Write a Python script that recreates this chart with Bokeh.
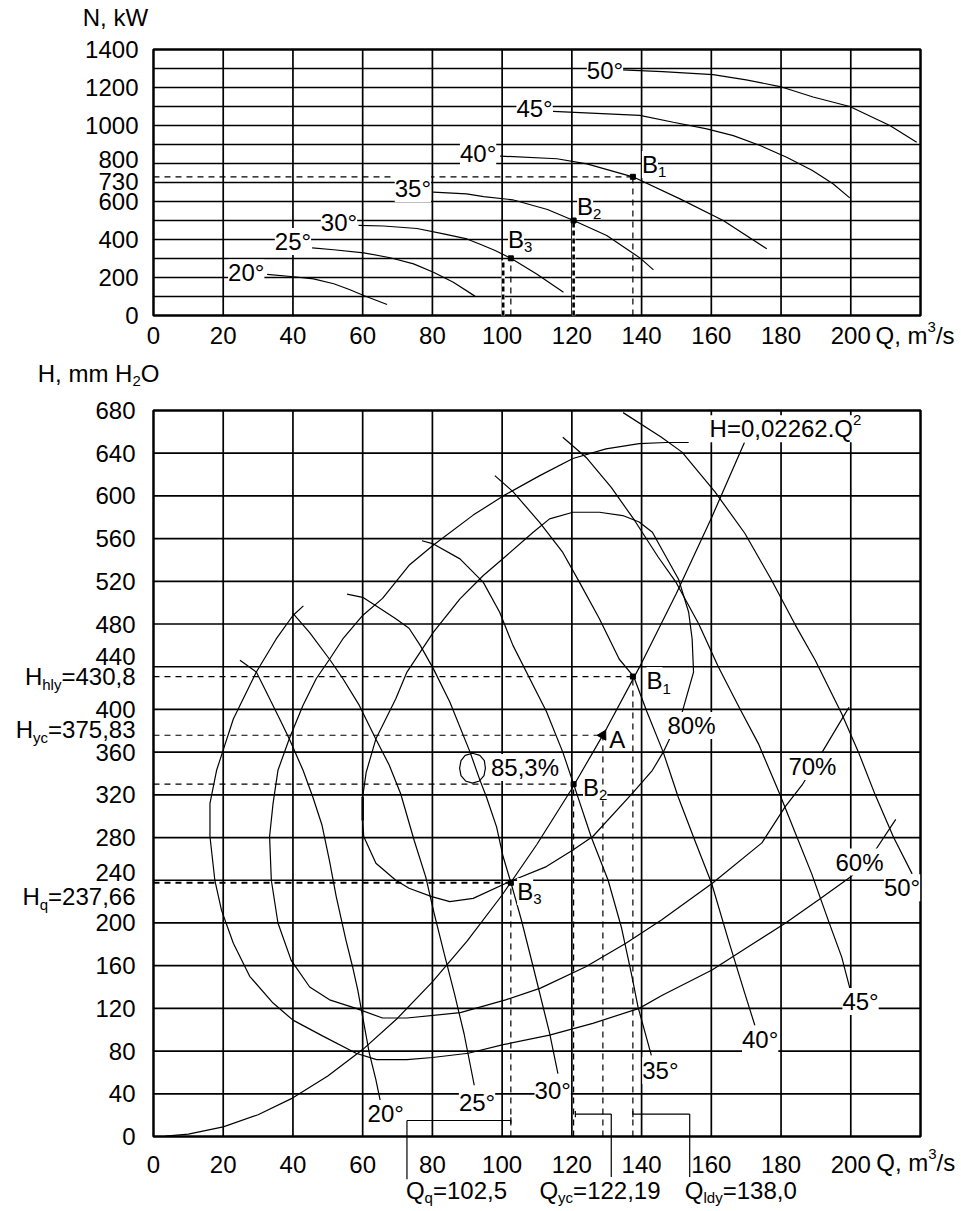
from bokeh.plotting import figure
from bokeh.models import Range1d, FixedTicker, Label, LinearAxis
from bokeh.layouts import column
from bokeh.embed import file_html
from bokeh.resources import INLINE

# ======================= DATA =======================
# flow axis (shared)
Q_TICKS = [0, 20, 40, 60, 80, 100, 120, 140, 160, 180, 200]
Q_GRID = [20, 40, 60, 80, 100, 120, 140, 160, 180, 200]
Q_MAX = 220

# ---------- upper chart: power N, kW ----------
N_TICKS = [0, 200, 400, 600, 1000, 1200, 1400]
N_EXTRA = ["730", "800"]
N_GRID = [100, 200, 300, 400, 500, 600, 700, 800, 900, 1000, 1100, 1200, 1300]
N_MAX = 1400

QN_20 = [32.6, 40.2, 45.9, 51.7, 56.0, 60.3, 67.0]
N_20 = [216, 204, 193, 167, 138, 105, 58]
QN_25 = [45.5, 51.7, 60.3, 67.9, 74.6, 80.3, 86.0, 92.2]
N_25 = [356, 346, 330, 304, 272, 228, 175, 102]
QN_30 = [58.8, 66.0, 75.6, 83.2, 89.9, 93.7, 98.0, 102.5, 109.9, 117.6]
N_30 = [474, 471, 458, 430, 403, 375, 342, 301, 219, 123]
QN_35 = [80.2, 89.8, 94.7, 103.0, 113.0, 120.5, 130.0, 139.6, 143.4]
N_35 = [649, 640, 626, 609, 558, 500, 421, 302, 240]
QN_40 = [99.4, 115.7, 124.3, 137.5, 151.0, 163.4, 175.9]
N_40 = [839, 825, 798, 730, 614, 500, 351]
QN_45 = [114.6, 139.5, 149.1, 158.7, 166.3, 174.0, 181.6, 189.0, 194.9, 199.7]
N_45 = [1074, 1053, 1017, 982, 947, 895, 833, 763, 693, 619]
QN_50 = [134.4, 146.0, 160.5, 170.0, 179.7, 189.2, 199.7, 211.2, 218.9]
N_50 = [1293, 1284, 1268, 1240, 1205, 1150, 1100, 1000, 912]
ANGLES = ["20°", "25°", "30°", "35°", "40°", "45°", "50°"]

# operating points B1, B2, B3
B_Q = [137.5, 120.5, 102.5]
B_N = [730, 500, 301]
B_H = [430.8, 330.0, 237.66]
A_Q, A_H = 128.9, 375.83

# ---------- lower chart: pressure H, mm H2O ----------
H_TICKS = [0, 40, 80, 120, 160, 200, 280, 320, 360, 400, 480, 520, 560, 600, 640, 680]
H_EXTRA = ["440", "240"]
H_GRID = [40, 80, 120, 160, 200, 240, 280, 320, 360, 400, 440, 480, 520, 560, 600, 640]
H_MAX = 680

# network curve H = 0,02262.Q^2
Q_SYS = [3.4, 10, 20, 30, 40, 50, 60, 70, 80, 90, 100, 110, 120, 130, 140, 150, 160, 169.5]
H_SYS = [0.3, 2.3, 9.0, 20.4, 36.2, 56.6, 81.4, 110.8, 144.8, 183.2, 226.2, 273.7,
         325.7, 382.3, 443.4, 508.9, 579.1, 650.0]

QH_20 = [24.8, 29.5, 32.4, 36.2, 39.0, 42.9, 45.7, 48.3, 50.5, 52.4, 55.2, 57.1, 58.6, 60.0, 61.9, 63.8, 65.2]
H_20 = [446, 435, 416, 391, 372, 343, 318, 292, 258, 225, 184, 159, 137, 112, 78, 53, 31]
QH_25 = [40.0, 44.8, 50.5, 54.3, 59.0, 63.8, 67.6, 70.9, 74.8, 78.1, 80.5, 83.4, 86.3, 89.1, 92.0]
H_25 = [490, 472, 447, 429, 404, 372, 348, 321, 277, 243, 209, 171, 134, 96, 48]
QH_30 = [55.5, 60.0, 63.8, 69.5, 73.3, 76.5, 80.3, 85.0, 90.8, 93.6, 95.5, 98.4, 100.3, 102.5,
         105.5, 108.9, 113.6, 116.0]
H_30 = [508, 505, 497, 485, 476, 460, 438, 407, 360, 334, 318, 290, 262, 238, 203, 159, 97, 59]
QH_35 = [77.0, 80.3, 87.9, 94.6, 99.3, 103.1, 107.9, 112.7, 117.4, 120.5, 125.6, 130.4, 134.2,
         137.1, 139.0, 142.8]
H_35 = [558, 555, 541, 519, 491, 460, 429, 398, 360, 330, 280, 240, 196, 152, 121, 76]
QH_40 = [97.9, 103.1, 110.8, 117.4, 122.2, 127.9, 133.6, 137.7, 141.5, 146.2, 150.5, 155.3,
         160.1, 164.9, 169.6, 172.5]
H_40 = [619, 604, 575, 547, 519, 485, 447, 431, 398, 360, 318, 277, 237, 184, 134, 104]
QH_45 = [117.4, 124.1, 131.3, 138.0, 144.7, 149.7, 156.4, 162.0, 168.3, 173.5, 179.2, 184.0,
         188.8, 193.6, 197.4, 199.8]
H_45 = [655, 636, 608, 577, 543, 520, 480, 440, 400, 368, 324, 285, 246, 202, 168, 138]
QH_50 = [134.7, 145.7, 151.6, 161.0, 169.6, 177.3, 184.1, 189.8, 197.4, 202.2, 207.0, 212.3, 217.6]
H_50 = [678, 655, 641, 604, 565, 521, 479, 446, 396, 360, 320, 280, 246]

# efficiency contours
Q_E60 = [212.9, 205.2, 199.9, 190.9, 181.3, 170.7, 160.2, 145.8, 139.3, 126.0, 113.6, 100.3, 90.3,
         80.0, 72.7, 64.0, 58.1, 48.6, 40.0, 34.3, 27.6, 22.9, 19.5, 17.6, 16.2, 16.2, 18.1, 19.5,
         22.9, 29.5, 35.2, 40.0, 43.0]
H_E60 = [297, 259, 243, 222, 200, 178, 156, 132, 120, 106, 95, 86, 78, 74, 72, 72, 78, 94, 109,
         125, 150, 181, 212, 240, 281, 312, 343, 357, 391, 435, 466, 488, 497]
Q_E70 = [153.5, 146.9, 139.3, 129.8, 120.3, 110.8, 100.3, 91.7, 80.3, 73.3, 65.7, 60.0, 54.3, 50.5,
         46.7, 42.9, 39.0, 35.7, 34.3, 33.3, 33.8, 35.7, 39.5, 44.8, 50.5, 58.1, 65.7, 72.7, 88.0,
         101.0, 111.0, 124.0, 135.5, 145.8, 160.2, 174.5, 181.2, 186.0, 191.8, 198.0, 199.5]
H_E70 = [650, 650, 649, 644, 635, 619, 600, 582, 554, 535, 504, 488, 466, 447, 429, 404, 373, 343,
         312, 281, 240, 200, 165, 140, 128, 120, 111, 111, 116, 128, 139, 159, 181, 203, 237, 275,
         309, 329, 360, 394, 402]
Q_E80 = [61.0, 60.0, 60.0, 60.3, 63.8, 69.5, 73.3, 79.8, 85.0, 91.7, 102.2, 112.7, 120.3, 126.0,
         137.4, 143.1, 146.2, 151.6, 154.9, 154.5, 153.5, 150.6, 145.8, 143.1, 139.3, 134.6, 127.9,
         120.3, 113.6, 108.9, 101.2, 94.6, 87.9, 80.3, 72.7, 69.5, 65.7, 63.8, 61.0]
H_E80 = [341, 318, 296, 281, 256, 240, 232.5, 224.7, 220, 223, 238.8, 252.8, 268.4, 281, 321.6,
         343, 360, 397, 435, 466, 491, 522, 550, 566, 575.5, 581.6, 584.7, 584.7, 578.5, 566, 544,
         525.4, 503.6, 472.4, 435, 410, 385, 372.5, 341]
Q_E85 = [91.5, 93.6, 94.9, 95.2, 94.8, 93.5, 91.5, 89.5, 88.2, 87.8, 88.2, 89.4, 91.5]
H_E85 = [359, 357, 352, 345, 338, 333, 331, 333, 338, 345, 352, 357, 359]

# ======================= STYLE HELPERS =======================
FONT = "Liberation Sans"
FS = 24
SUB = 15
W = 960
XR = (-43.88, 231.47)
ADV = {' ': 278, ',': 278, '.': 278, '/': 278, '=': 584, '%': 889, '°': 400,
       'A': 667, 'B': 667, 'H': 722, 'N': 722, 'O': 778, 'Q': 778, 'W': 944,
       'c': 500, 'd': 556, 'h': 556, 'k': 500, 'l': 222, 'm': 833, 'q': 556, 's': 500, 'y': 500}


def adv(t, s):
    return sum(ADV.get(c, 556) for c in t) * s / 1000.0


def lab(p, x, y, text, align="center", bg="white", size=FS, dx=0):
    p.add_layout(Label(x=x, y=y, x_offset=dx, text=text, text_align=align,
                       text_baseline="middle", text_font=FONT,
                       text_font_size=f"{size}px", text_color="black",
                       background_fill_color=bg))


def rich(p, x, y, parts, align="left", bg=None, dx=0, sub_drop=0.33):
    items = []
    for t, k in parts:
        s = FS if k == "n" else SUB
        items.append((t, k, s, adv(t, s)))
    total = sum(i[3] for i in items)
    off = dx + {"left": 0.0, "center": -total / 2, "right": -total}[align]
    for t, k, s, w in items:
        dy = 0 if k == "n" else (-sub_drop * FS if k == "sub" else 0.36 * FS)
        p.add_layout(Label(x=x, y=y, x_offset=off, y_offset=dy, text=t,
                           text_align="left", text_baseline="middle",
                           text_font=FONT, text_font_size=f"{s}px",
                           text_color="black", background_fill_color=bg))
        off += w


def make_fig(h, yr):
    p = figure(width=W, height=h, x_range=Range1d(*XR), y_range=Range1d(*yr),
               min_border=0, outline_line_color=None, toolbar_location=None,
               output_backend="svg", x_axis_type=None, y_axis_type=None)
    p.background_fill_color = "white"
    p.border_fill_color = "white"
    return p


def add_axis(p, place, ticks, standoff):
    ax = LinearAxis(fixed_location=0, ticker=FixedTicker(ticks=ticks))
    ax.axis_line_color = None
    ax.major_tick_line_color = None
    ax.minor_tick_line_color = None
    ax.major_tick_in = 0
    ax.major_tick_out = 0
    ax.minor_tick_in = 0
    ax.minor_tick_out = 0
    ax.major_label_standoff = standoff
    ax.major_label_text_font = FONT
    ax.major_label_text_font_size = f"{FS}px"
    ax.major_label_text_color = "black"
    p.add_layout(ax, place)


def frame_and_grid(p, ygrid, ymax):
    n = len(Q_GRID)
    p.segment(x0=Q_GRID, y0=[0] * n, x1=Q_GRID, y1=[ymax] * n, line_color="black", line_width=1.7)
    m = len(ygrid)
    p.segment(x0=[0] * m, y0=ygrid, x1=[Q_MAX] * m, y1=ygrid, line_color="black", line_width=1.7)
    p.quad(left=[0], right=[Q_MAX], bottom=[0], top=[ymax], fill_color=None,
           line_color="black", line_width=2.5)


CW = 1.2  # curve width
DASH = "6 5"

# ======================= UPPER CHART =======================
p1 = make_fig(355, (-210.5, 1657.9))
frame_and_grid(p1, N_GRID, N_MAX)
add_axis(p1, "below", Q_TICKS, 11)
add_axis(p1, "left", N_TICKS, 15)

# dashed construction lines
p1.line([0, B_Q[0]], [B_N[0], B_N[0]], line_color="black", line_width=1.2, line_dash=DASH)
p1.line([B_Q[0], B_Q[0]], [0, B_N[0]], line_color="black", line_width=1.2, line_dash=DASH)
p1.line([B_Q[2], B_Q[2]], [0, B_N[2]], line_color="black", line_width=1.2, line_dash=DASH)
for qv, nv in [(100.3, 290), (B_Q[1], B_N[1])]:
    p1.line([qv, qv], [0, nv], line_color="white", line_width=3.5)
    p1.line([qv, qv], [0, nv], line_color="black", line_width=2.6, line_dash="5 3")

for qs, ns in [(QN_20, N_20), (QN_25, N_25), (QN_30, N_30), (QN_35, N_35),
               (QN_40, N_40), (QN_45, N_45), (QN_50, N_50)]:
    p1.line(qs, ns, line_color="black", line_width=CW)
p1.scatter(B_Q, B_N, marker="square", size=5, color="black")

for txt, (x, y) in zip(ANGLES, [(26.6, 224), (40, 389), (53.2, 490), (74.4, 668),
                                (93.1, 853), (109.3, 1089), (129.5, 1289)]):
    lab(p1, x, y, txt)
for i, (x, y) in enumerate([(140.1, 795), (121.5, 574), (101.7, 400)]):
    rich(p1, x, y, [("B", "n"), (str(i + 1), "sub")], bg="white")

lab(p1, 0, 705, N_EXTRA[0], align="right", bg=None, dx=-15)
lab(p1, 0, 821, N_EXTRA[1], align="right", bg=None, dx=-15)
lab(p1, -20.3, 1566, "N, kW", align="left", bg=None)
rich(p1, 207.1, -105, [("Q, m", "n"), ("3", "sup"), ("/s", "n")])

# ======================= LOWER CHART =======================
p2 = make_fig(854, (-68.37, 731.5))
frame_and_grid(p2, H_GRID, H_MAX)
add_axis(p2, "below", Q_TICKS, 19)
add_axis(p2, "left", H_TICKS, 18)

# dashed construction lines
for qv, hv, w in [(B_Q[0], B_H[0], 1.2), (A_Q, A_H, 1.2), (B_Q[1], B_H[1], 1.2), (B_Q[2], B_H[2], 2.0)]:
    p2.line([0, qv], [hv, hv], line_color="black", line_width=w, line_dash=DASH)
    p2.line([qv, qv], [0, hv], line_color="black", line_width=1.2, line_dash=DASH)

# curves
p2.line(Q_SYS, H_SYS, line_color="black", line_width=CW)
for qs, hs in [(QH_20, H_20), (QH_25, H_25), (QH_30, H_30), (QH_35, H_35),
               (QH_40, H_40), (QH_45, H_45), (QH_50, H_50)]:
    p2.line(qs, hs, line_color="black", line_width=CW)
for qs, hs in [(Q_E60, H_E60), (Q_E70, H_E70), (Q_E80, H_E80), (Q_E85, H_E85)]:
    p2.line(qs, hs, line_color="black", line_width=CW)
p2.line([60.0, 60.0], [296, 318], line_color="black", line_width=2.4)

p2.scatter(B_Q, B_H, marker="square", size=5, color="black")
p2.scatter([A_Q], [A_H], marker="triangle", size=10, angle=-0.51, color="black")

# leader brackets for the flow readings
p2.line([72.7, B_Q[2]], [15, 15], line_color="black", line_width=1.2)
p2.line([72.7, 72.7], [15, -40], line_color="black", line_width=1.2)
p2.line([B_Q[2], B_Q[2]], [12, 18], line_color="black", line_width=1.2)
p2.line([121.0, 131.3], [21, 21], line_color="black", line_width=1.2)
p2.line([131.3, 131.3], [21, -38], line_color="black", line_width=1.2)
p2.line([121.0, 121.0], [18, 24], line_color="black", line_width=1.2)
p2.line([137.5, 153.8], [21, 21], line_color="black", line_width=1.2)
p2.line([153.8, 153.8], [21, -38], line_color="black", line_width=1.2)
p2.line([137.5, 137.5], [18, 24], line_color="black", line_width=1.2)

# labels
for txt, (x, y) in zip(ANGLES, [(66.6, 21.5), (92.8, 32), (114.5, 43), (145.4, 61.8),
                                (174.0, 91.3), (202.8, 126.5), (214.7, 233)]):
    lab(p2, x, y, txt)
lab(p2, 154.3, 385, "80%")
lab(p2, 189.0, 346.6, "70%")
lab(p2, 202.5, 257, "60%")
lab(p2, 96.8, 345.6, "85,3%", align="left")
rich(p2, 141.4, 427, [("B", "n"), ("1", "sub")], bg="white")
rich(p2, 123.2, 327, [("B", "n"), ("2", "sub")], bg="white")
rich(p2, 104.3, 229.5, [("B", "n"), ("3", "sub")], bg="white")
lab(p2, 130.7, 372, "A", align="left", bg=None)
rich(p2, 159.5, 663, [("H=0,02262.Q", "n"), ("2", "sup")], bg="white")

lab(p2, 0, 449.6, H_EXTRA[0], align="right", bg=None, dx=-18)
lab(p2, 0, 247, H_EXTRA[1], align="right", bg=None, dx=-18)
rich(p2, 0, 431, [("H", "n"), ("hly", "sub"), ("=430,8", "n")], align="right", dx=-18)
rich(p2, 0, 381, [("H", "n"), ("yc", "sub"), ("=375,83", "n")], align="right", dx=-18)
rich(p2, 0, 224.8, [("H", "n"), ("q", "sub"), ("=237,66", "n")], align="right", dx=-18)

rich(p2, -33.2, 714.7, [("H, mm H", "n"), ("2", "sub"), ("O", "n")])
rich(p2, 207.3, -24.4, [("Q, m", "n"), ("3", "sup"), ("/s", "n")])

rich(p2, 72.4, -50.5, [("Q", "n"), ("q", "sub"), ("=102,5", "n")], sub_drop=0.28)
rich(p2, 110.7, -50.5, [("Q", "n"), ("yc", "sub"), ("=122,19", "n")], sub_drop=0.28)
rich(p2, 152.4, -50.5, [("Q", "n"), ("ldy", "sub"), ("=138,0", "n")], sub_drop=0.28)

layout = column(p1, p2)
open("out.html", "w").write(file_html(layout, INLINE))
